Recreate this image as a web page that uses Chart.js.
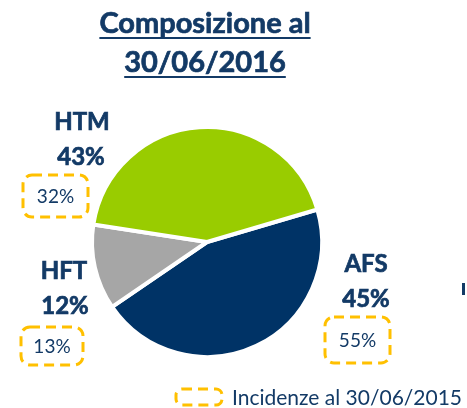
<!DOCTYPE html>
<html>
<head>
<meta charset="utf-8">
<script src="https://cdn.jsdelivr.net/npm/chart.js@4"></script>
<style>
  html, body { margin: 0; padding: 0; background: #fff; }
</style>
</head>
<body>
<canvas id="chart" width="467" height="408"></canvas>
<script>
// data
const categories = ['AFS', 'HFT', 'HTM'];
const shares2016 = [45, 12, 43];
const shares2015 = [55, 13, 32];
const titleLines = ['Composizione al', '30/06/2016'];
const legendText = 'Incidenze al 30/06/2015';

const navy = '#133A66';
const gold = '#FFC000';
const sliceColors = ['#003366', '#A6A6A6', '#99CC00'];

// where each category's labels sit (name, big %, dashed box)
const labelPos = {
  AFS: { name: [366, 264], pct: [366, 299], box: [325, 317, 65, 46] },
  HFT: { name: [64, 271], pct: [65, 306], box: [21, 327, 62, 38] },
  HTM: { name: [82, 122], pct: [81, 157], box: [23, 175, 65, 42] }
};

function dashedBox(ctx, x, y, w, h, r) {
  ctx.save();
  ctx.strokeStyle = gold;
  ctx.lineWidth = 3;
  ctx.setLineDash([10, 6]);
  ctx.beginPath();
  ctx.roundRect(x, y, w, h, r);
  ctx.stroke();
  ctx.restore();
}

// bold text, a bit heavier like the original
function heavyText(ctx, txt, x, y) {
  ctx.fillText(txt, x, y);
  ctx.lineWidth = 0.7;
  ctx.strokeText(txt, x, y);
}

const annotations = {
  id: 'annotations',
  afterDraw(chart) {
    const ctx = chart.ctx;
    ctx.save();
    ctx.fillStyle = navy;
    ctx.strokeStyle = navy;
    ctx.textAlign = 'center';
    ctx.textBaseline = 'alphabetic';

    // title with underline
    ctx.font = 'bold 29px Lato';
    const baselines = [33, 72];
    titleLines.forEach((line, i) => {
      const w = ctx.measureText(line).width;
      heavyText(ctx, line, 205, baselines[i]);
      ctx.fillRect(205 - w / 2, baselines[i] + 4, w, 2);
    });

    // category labels
    categories.forEach((cat, i) => {
      const p = labelPos[cat];
      ctx.fillStyle = navy;
      ctx.textBaseline = 'middle';
      ctx.font = 'bold 24px Lato';
      heavyText(ctx, cat, p.name[0], p.name[1]);
      heavyText(ctx, shares2016[i] + '%', p.pct[0], p.pct[1]);
      const [bx, by, bw, bh] = p.box;
      dashedBox(ctx, bx, by, bw, bh, 9);
      ctx.fillStyle = navy;
      ctx.font = '19px Lato';
      ctx.fillText(shares2015[i] + '%', bx + bw / 2, by + bh / 2 + 1);
    });

    // legend
    dashedBox(ctx, 176, 389, 46, 16, 6);
    ctx.fillStyle = navy;
    ctx.textAlign = 'left';
    ctx.textBaseline = 'alphabetic';
    ctx.font = '21px Lato';
    ctx.fillText(legendText, 232, 405);

    // clipped glyph at right edge
    ctx.fillRect(462, 283, 3, 12);
    ctx.restore();
  }
};

new Chart(document.getElementById('chart'), {
  type: 'pie',
  data: {
    labels: categories,
    datasets: [{
      data: shares2016,
      backgroundColor: sliceColors,
      borderColor: '#fff',
      borderWidth: 4
    }]
  },
  options: {
    responsive: false,
    animation: false,
    devicePixelRatio: 1,
    rotation: 73.6,
    layout: { padding: { left: 90, top: 125, right: 143, bottom: 49 } },
    plugins: {
      legend: { display: false },
      tooltip: { enabled: false }
    }
  },
  plugins: [annotations]
});
</script>
</body>
</html>
